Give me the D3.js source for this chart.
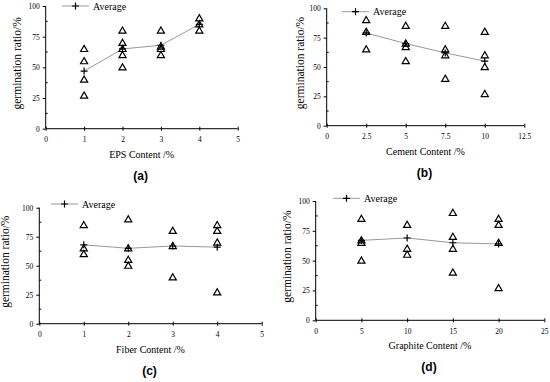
<!DOCTYPE html>
<html>
<head>
<meta charset="utf-8">
<script src="https://d3js.org/d3.v7.min.js"></script>
<style>
  body { margin: 0; background: #fff; }
  text { font-family: "Liberation Serif", "Times New Roman", serif; fill: #000; }
</style>
</head>
<body>
<svg width="550" height="382"></svg>
<script>
// (a) EPS content
var epsX = [1, 2, 3, 4];
var epsPoints = [[65, 55, 40, 27], [80, 70, 65, 60, 50], [80, 67, 65, 60], [90, 85, 80]];
var epsAvg = [47, 65, 68, 85];
var epsTicks = [0, 1, 2, 3, 4, 5];

// (b) cement content
var cementX = [2.5, 5, 7.5, 10];
var cementPoints = [[90, 80, 65], [85, 70, 67, 55], [85, 65, 60, 40], [80, 60, 50, 27]];
var cementAvg = [79, 70, 62, 55];
var cementTicks = [0, 2.5, 5, 7.5, 10, 12.5];

// (c) fiber content
var fiberX = [1, 2, 3, 4];
var fiberPoints = [[85, 65, 60], [90, 65, 55, 50], [80, 67, 40], [85, 80, 70, 27]];
var fiberAvg = [68, 65, 67, 66];
var fiberTicks = [0, 1, 2, 3, 4, 5];

// (d) graphite content
var graphiteX = [5, 10, 15, 20];
var graphitePoints = [[85, 67, 65, 50], [80, 60, 55], [90, 70, 60, 40], [85, 80, 65, 27]];
var graphiteAvg = [67, 69, 65, 64];
var graphiteTicks = [0, 5, 10, 15, 20, 25];

var yTicks = [0, 25, 50, 75, 100];
var yMinor = [12.5, 37.5, 62.5, 87.5];

var svg = d3.select("svg");

function panel(o) {
  var x = d3.scaleLinear().domain([o.ticks[0], o.ticks[o.ticks.length - 1]]).range([o.x0, o.x1]);
  var y = d3.scaleLinear().domain([0, 100]).range([o.y0, o.y1]);
  var g = svg.append("g");

  // y axis
  g.append("g").attr("transform", "translate(" + o.x0 + ",0)")
    .call(d3.axisLeft(y).tickValues(yTicks).tickFormat(function(d){ return String(d); }).tickSize(3).tickPadding(3))
    .call(function(a){
      a.select(".domain").attr("stroke", "#000").attr("d", "M0," + o.y0 + "V" + o.y1);
      a.selectAll("text").attr("fill", "#000").style("font-family", "Liberation Serif").style("font-size", "7.5px");
    });
  g.selectAll(".yminor").data(yMinor).enter().append("line")
    .attr("x1", o.x0).attr("x2", o.x0 + 2)
    .attr("y1", function(d){ return y(d); }).attr("y2", function(d){ return y(d); })
    .attr("stroke", "#000");

  // x axis
  g.append("g").attr("transform", "translate(0," + o.y0 + ")")
    .call(d3.axisBottom(x).tickValues(o.ticks).tickFormat(function(d){ return String(d); }).tickSize(2).tickPadding(6))
    .call(function(a){
      a.select(".domain").attr("stroke", "#000").attr("d", "M" + o.x0 + ",0H" + o.x1);
      a.selectAll(".tick line").attr("y1", -2).attr("y2", 2);
      a.selectAll("text").attr("fill", "#000").style("font-family", "Liberation Serif").style("font-size", "7.5px");
    });

  // titles
  g.append("text").attr("transform", "translate(" + o.ty + "," + ((o.y0 + o.y1) / 2 - 4) + ") rotate(-90)")
    .attr("text-anchor", "middle").style("font-size", "11.5px").text("germination ratio/%");
  g.append("text").attr("x", (o.x0 + o.x1) / 2).attr("y", o.y0 + 29)
    .attr("text-anchor", "middle").style("font-size", "10px").text(o.label);
  g.append("text").attr("x", (o.x0 + o.x1) / 2 - 1).attr("y", o.y0 + 51)
    .attr("text-anchor", "middle").style("font-size", "12px").style("font-weight", "bold")
    .style("font-family", "Liberation Sans").text(o.tag);

  // average line
  var line = d3.line().x(function(d, i){ return x(o.xs[i]); }).y(function(d){ return y(d); });
  g.append("path").datum(o.avg).attr("d", line).attr("fill", "none").attr("stroke", "#999").attr("stroke-width", 1);

  // triangles
  var tri = d3.symbol().type(d3.symbolTriangle).size(22);
  o.pts.forEach(function(list, i){
    g.selectAll(null).data(list).enter().append("path")
      .attr("d", tri)
      .attr("transform", function(d){ return "translate(" + x(o.xs[i]) + "," + (y(d) + 0.5) + ")"; })
      .attr("fill", "none").attr("stroke", "#000").attr("stroke-width", 1.2);
  });

  // average markers
  g.selectAll(null).data(o.avg).enter().append("path")
    .attr("d", "M-3.5,0H3.5M0,-3.5V3.5")
    .attr("transform", function(d, i){ return "translate(" + x(o.xs[i]) + "," + y(d) + ")"; })
    .attr("stroke", "#000").attr("stroke-width", 1.2);

  // legend
  g.append("line").attr("x1", o.lx).attr("x2", o.lx + 27).attr("y1", o.ly).attr("y2", o.ly)
    .attr("stroke", "#999");
  g.append("path").attr("d", "M-3.5,0H3.5M0,-3.5V3.5")
    .attr("transform", "translate(" + (o.lx + 13.5) + "," + o.ly + ")")
    .attr("stroke", "#000").attr("stroke-width", 1.2);
  g.append("text").attr("x", o.lx + 31).attr("y", o.ly + 3.5).style("font-size", "10px").text("Average");
}

panel({x0: 45.7, x1: 237.7, y0: 128.7, y1: 6, ticks: epsTicks, xs: epsX, pts: epsPoints, avg: epsAvg,
  label: "EPS Content /%", tag: "(a)", ty: 21, lx: 62, ly: 6});
panel({x0: 326.7, x1: 524.3, y0: 125.7, y1: 8.3, ticks: cementTicks, xs: cementX, pts: cementPoints, avg: cementAvg,
  label: "Cement Content /%", tag: "(b)", ty: 304, lx: 342, ly: 11.7});
panel({x0: 39.3, x1: 261.7, y0: 323.7, y1: 207.7, ticks: fiberTicks, xs: fiberX, pts: fiberPoints, avg: fiberAvg,
  label: "Fiber Content /%", tag: "(c)", ty: 9, lx: 51, ly: 204});
panel({x0: 315.7, x1: 544.3, y0: 320.3, y1: 201, ticks: graphiteTicks, xs: graphiteX, pts: graphitePoints, avg: graphiteAvg,
  label: "Graphite Content /%", tag: "(d)", ty: 291, lx: 333, ly: 198.3});
</script>
</body>
</html>
